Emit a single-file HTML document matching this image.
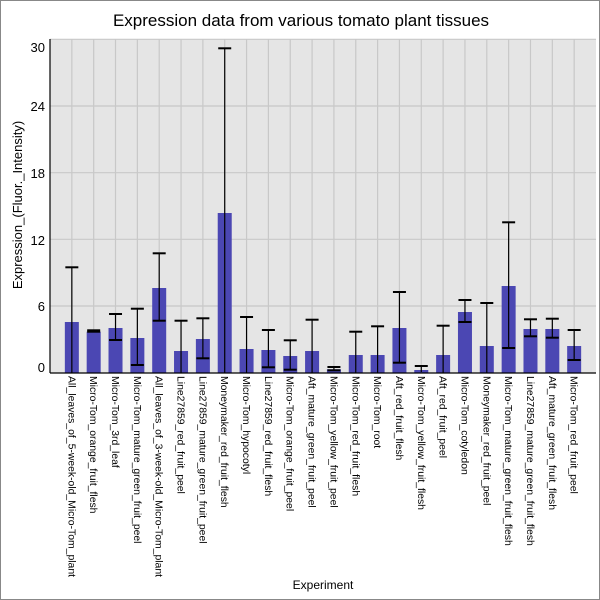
<!DOCTYPE html>
<html><head><meta charset="utf-8"><style>body{margin:0;background:#fff}svg{display:block}text{font-family:"Liberation Sans","DejaVu Sans",sans-serif}</style></head>
<body>
<svg width="600" height="600" xmlns="http://www.w3.org/2000/svg">
<rect x="0.5" y="0.5" width="599" height="599" fill="#fff" stroke="#888"/>
<text x="301" y="26" font-size="17" text-anchor="middle">Expression data from various tomato plant tissues</text>
<rect x="50" y="39" width="546" height="334" fill="#e5e5e5"/>
<g stroke="#c8c8c8" stroke-width="1.2" id="grid"></g>
<g id="bars"></g>
<line x1="50" y1="39" x2="50" y2="373" stroke="#000" stroke-width="1.2"/>
<line x1="50" y1="373" x2="596" y2="373" stroke="#000" stroke-width="1.2"/>
<g font-size="13" text-anchor="end">
<text x="45" y="52">30</text><text x="45" y="111">24</text><text x="45" y="178">18</text><text x="45" y="245">12</text><text x="45" y="311">6</text><text x="45" y="372">0</text>
</g>
<text transform="translate(22,205) rotate(-90)" font-size="13" text-anchor="middle">Expression_(Fluor._Intensity)</text>
<text x="323" y="589" font-size="12" text-anchor="middle">Experiment</text>
<g id="labels" font-size="10.4"></g>
</svg>
<script>
var names=["All_leaves_of_5-week-old_Micro-Tom_plant","Micro-Tom_orange_fruit_flesh","Micro-Tom_3rd_leaf","Micro-Tom_mature_green_fruit_peel","All_leaves_of_3-week-old_Micro-Tom_plant","Line27859_red_fruit_peel","Line27859_mature_green_fruit_peel","Moneymaker_red_fruit_flesh","Micro-Tom_hypocotyl","Line27859_red_fruit_flesh","Micro-Tom_orange_fruit_peel","Aft_mature_green_fruit_peel","Micro-Tom_yellow_fruit_peel","Micro-Tom_red_fruit_flesh","Micro-Tom_root","Aft_red_fruit_flesh","Micro-Tom_yellow_fruit_flesh","Aft_red_fruit_peel","Micro-Tom_cotyledon","Moneymaker_red_fruit_peel","Micro-Tom_mature_green_fruit_flesh","Line27859_mature_green_fruit_flesh","Aft_mature_green_fruit_flesh","Micro-Tom_red_fruit_peel"];
var d=[[322,267.3,373],[331.7,330.3,331.7],[328,314,340],[338,308.7,365],[288,253.3,320.7],[351,320.7,373],[339,318.3,358.3],[213,48.3,373],[349,317,373],[350,330,367.3],[356,340.3,369.7],[351,319.7,373],[369.3,367,370.3],[355,331.7,373],[355,326.3,373],[328,292,362.7],[370,366,372],[355,325.7,373],[312,300,322],[346,303,373],[286,222.3,348],[329,319.3,336.3],[329,318.7,337.7],[346,330,360]];
var NS="http://www.w3.org/2000/svg";
function el(p,t,a,txt){var e=document.createElementNS(NS,t);for(var k in a)e.setAttribute(k,a[k]);if(txt)e.textContent=txt;p.appendChild(e);return e;}
var g=document.getElementById("grid"),b=document.getElementById("bars"),l=document.getElementById("labels");
[39.3,106,172.7,239.3,306].forEach(function(y){el(g,"line",{x1:50,x2:596,y1:y,y2:y});});
for(var i=0;i<24;i++){var x=50+21.84*(i+1);
el(g,"line",{x1:x,x2:x,y1:39,y2:373});
el(b,"rect",{x:x-7,y:d[i][0],width:14,height:373-d[i][0],fill:"#4b47b3"});
el(b,"line",{x1:x,x2:x,y1:d[i][1],y2:d[i][2],stroke:"#000","stroke-width":1.2});
el(b,"line",{x1:x-6.5,x2:x+6.5,y1:d[i][1],y2:d[i][1],stroke:"#000","stroke-width":2});
if(d[i][2]<372)el(b,"line",{x1:x-6.5,x2:x+6.5,y1:d[i][2],y2:d[i][2],stroke:"#000","stroke-width":2});
el(l,"text",{transform:"translate("+(x-3.5)+",376) rotate(90)"},names[i]);}
</script>
</body></html>
